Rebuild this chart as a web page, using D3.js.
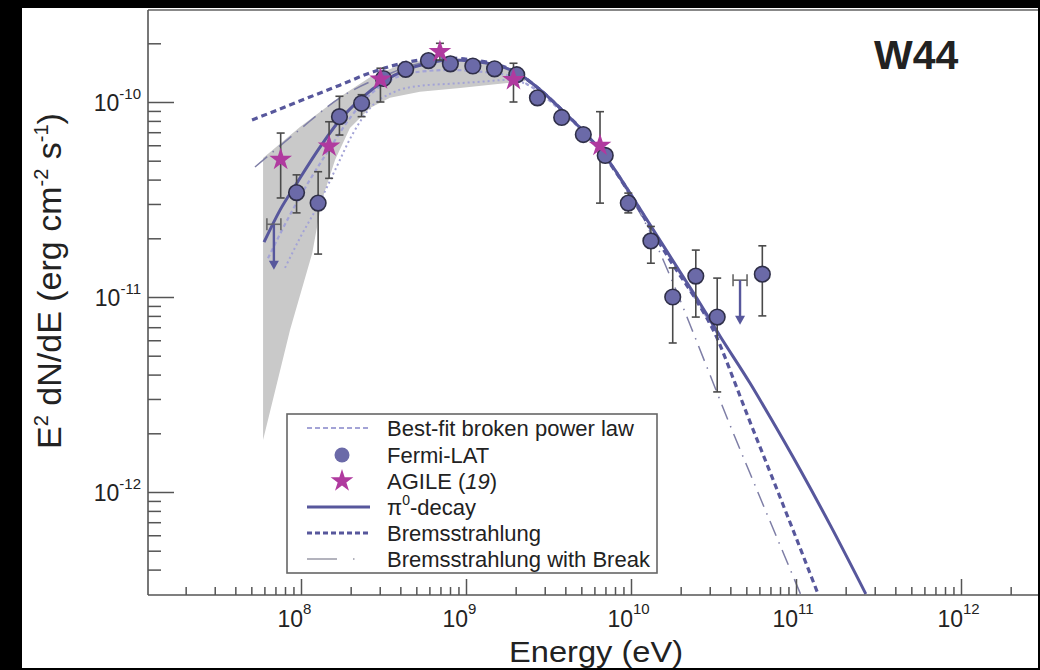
<!DOCTYPE html>
<html>
<head>
<meta charset="utf-8">
<script src="https://cdn.jsdelivr.net/npm/d3@7"></script>
<style>
  body { margin: 0; background: #000; }
  svg { display: block; }
  text { font-family: "Liberation Sans", Arial, sans-serif; fill: #222; }
</style>
</head>
<body>
<script>
// ---- data (E in eV, E^2 dN/dE in erg cm^-2 s^-1) ----
const fermiE  = [9.4e7, 1.27e8, 1.71e8, 2.33e8, 3.16e8, 4.31e8, 5.92e8, 8.04e8, 1.10e9, 1.49e9, 2.03e9,
                 2.71e9, 3.80e9, 5.14e9, 6.98e9, 9.63e9, 1.32e10, 1.79e10, 2.47e10, 3.33e10, 6.25e10];
const fermiF  = [3.43e-11, 3.03e-11, 8.41e-11, 9.85e-11, 1.32e-10, 1.47e-10, 1.63e-10, 1.57e-10, 1.53e-10, 1.48e-10, 1.38e-10,
                 1.05e-10, 8.33e-11, 6.81e-11, 5.32e-11, 3.03e-11, 1.94e-11, 1.00e-11, 1.28e-11, 7.89e-12, 1.31e-11];
const fermiHi = [4.23e-11, 4.39e-11, 1.07e-10, 1.09e-10, null, null, null, null, null, null, null,
                 null, null, null, null, 3.41e-11, 2.3e-11, 1.41e-11, 1.74e-11, 1.25e-11, 1.83e-11];
const fermiLo = [2.70e-11, 1.66e-11, 6.77e-11, 8.41e-11, null, null, null, null, null, null, null,
                 null, null, null, null, 2.70e-11, 1.49e-11, 5.81e-12, 7.89e-12, 3.26e-12, 8.0e-12];

const ulE   = [6.85e7, 4.58e10];
const ulF   = [2.36e-11, 1.22e-11];
const ulTip = [1.38e-11, 7.2e-12];

const agileE  = [7.53e7, 1.48e8, 3.03e8, 6.95e8, 1.94e9, 6.49e9];
const agileF  = [5.07e-11, 5.93e-11, 1.31e-10, 1.81e-10, 1.30e-10, 5.98e-11];
const agileHi = [6.93e-11, 7.92e-11, 1.49e-10, 2.0e-10, 1.58e-10, 8.92e-11];
const agileLo = [3.22e-11, 4.06e-11, 1.0e-10, 1.64e-10, 1.0e-10, 3.03e-11];

const pionE = [5.97e7, 7.46e7, 9.46e7, 1.27e8, 1.72e8, 2.34e8, 3.19e8, 4.33e8, 5.89e8, 8.0e8, 1.10e9, 1.50e9, 2.04e9,
               2.73e9, 3.82e9, 5.19e9, 7.05e9, 9.59e9, 1.32e10, 1.80e10, 2.48e10, 3.46e10, 5.26e10, 6.95e10, 1.06e11, 1.61e11, 2.65e11];
const pionF = [1.91e-11, 2.79e-11, 3.85e-11, 5.68e-11, 8.09e-11, 1.05e-10, 1.28e-10, 1.46e-10, 1.58e-10, 1.64e-10, 1.62e-10, 1.55e-10, 1.41e-10,
               1.18e-10, 9.10e-11, 7.02e-11, 5.22e-11, 3.54e-11, 2.31e-11, 1.53e-11, 1.00e-11, 6.31e-12, 3.62e-12, 2.43e-12, 1.30e-12, 6.78e-13, 3.0e-13];

const bremE = [5.05e7, 7.46e7, 1.13e8, 1.72e8, 2.62e8, 3.98e8, 5.89e8, 8.0e8, 1.10e9, 1.50e9, 2.04e9, 2.73e9, 3.82e9,
               5.19e9, 7.05e9, 9.59e9, 1.32e10, 1.80e10, 2.48e10, 3.32e10, 4.15e10, 5.12e10, 6.95e10, 9.86e10, 1.36e11];
const bremF = [8.09e-11, 9.21e-11, 1.06e-10, 1.22e-10, 1.41e-10, 1.57e-10, 1.66e-10, 1.68e-10, 1.64e-10, 1.57e-10, 1.41e-10, 1.18e-10, 9.10e-11,
               7.02e-11, 5.16e-11, 3.50e-11, 2.23e-11, 1.46e-11, 9.66e-12, 6.17e-12, 3.85e-12, 2.43e-12, 1.27e-12, 6.02e-13, 3.0e-13];

const breakE = [5.26e7, 9.59e7, 1.72e8, 3.19e8, 5.89e8, 1.10e9, 2.04e9, 3.82e9, 7.05e9, 9.87e9, 1.36e10, 1.87e10, 2.55e10, 3.87e10, 5.81e10, 8.58e10, 1.07e11];
const breakF = [4.64e-11, 7.10e-11, 1.05e-10, 1.36e-10, 1.60e-10, 1.62e-10, 1.41e-10, 9.10e-11, 5.16e-11, 3.30e-11, 2.01e-11, 1.09e-11, 5.68e-12, 2.34e-12, 1.02e-12, 4.64e-13, 2.97e-13];

const fitE = [6.31e7, 8.58e7, 1.13e8, 1.50e8, 1.98e8, 2.62e8, 3.71e8, 5.26e8, 8.0e8, 1.22e9, 1.85e9, 2.44e9, 3.72e9,
              5.19e9, 7.05e9, 9.59e9, 1.32e10, 1.80e10, 2.48e10, 3.46e10];
const fitF = [1.58e-11, 2.64e-11, 3.98e-11, 5.81e-11, 8.28e-11, 1.09e-10, 1.33e-10, 1.43e-10, 1.46e-10, 1.43e-10, 1.36e-10, 1.21e-10, 9.10e-11,
              6.94e-11, 5.22e-11, 3.58e-11, 2.31e-11, 1.51e-11, 9.66e-12, 6.17e-12];

const fit2E = [8.0e7, 9.86e7, 1.27e8, 1.61e8, 2.04e8, 2.62e8, 3.71e8, 5.26e8, 8.0e8, 1.22e9, 1.85e9, 2.44e9];
const fit2F = [1.41e-11, 2.01e-11, 2.96e-11, 4.48e-11, 6.77e-11, 9.31e-11, 1.13e-10, 1.21e-10, 1.24e-10, 1.27e-10, 1.30e-10, 1.21e-10];

const bandUpE = [5.89e7, 9.86e7, 1.72e8, 2.62e8, 3.98e8, 6.05e8, 9.2e8, 1.61e9, 2.28e9];
const bandUpF = [5.16e-11, 7.44e-11, 1.06e-10, 1.34e-10, 1.55e-10, 1.66e-10, 1.66e-10, 1.57e-10, 1.36e-10];
const bandLoE = [5.89e7, 8.58e7, 1.17e8, 1.34e8, 1.61e8, 1.98e8, 2.62e8, 3.46e8, 5.26e8, 9.2e8, 1.61e9, 2.28e9];
const bandLoF = [1.85e-12, 6.78e-12, 1.68e-11, 3.14e-11, 5.05e-11, 7.36e-11, 9.31e-11, 1.05e-10, 1.13e-10, 1.18e-10, 1.24e-10, 1.28e-10];

const xMajor = [1e8, 1e9, 1e10, 1e11, 1e12];
const xMajorExp = ["8", "9", "10", "11", "12"];
const yMajor = [1e-10, 1e-11, 1e-12];
const yMajorExp = ["-10", "-11", "-12"];

const legendLabels = ["Best-fit broken power law", "Fermi-LAT", "AGILE (", "-decay", "Bremsstrahlung", "Bremsstrahlung with Break"];

// ---- layout ----
const W = 1040, H = 670;
const L = 148, T = 10, R = 1038, B = 595;

const x = d3.scaleLog().domain([1e8, 1e12]).range([301, 961]);
const y = d3.scaleLog().domain([1e-10, 1e-12]).range([102, 492]);

const slate = "#57579c", dotFill = "#6b6aa8", magenta = "#b03a9f", light = "#a3a3d6";

const svg = d3.select("body").append("svg").attr("width", W).attr("height", H);

svg.append("rect").attr("x", 22).attr("y", 8).attr("width", R - 22).attr("height", H - 10).attr("fill", "#fff");

svg.append("clipPath").attr("id", "plot")
  .append("rect").attr("x", L).attr("y", T).attr("width", R - L).attr("height", B - T);

const g = svg.append("g").attr("clip-path", "url(#plot)");

const pts = (E, F) => E.map((e, i) => [x(e), y(F[i])]);
const line = d3.line().curve(d3.curveMonotoneX);

// grey butterfly band
const band = pts(bandUpE, bandUpF).concat(pts(bandLoE, bandLoF).reverse());
g.append("path").attr("d", d3.line()(band) + "Z").attr("fill", "#c9c9c9");

// best-fit broken power law (light)
g.append("path").attr("d", line(pts(fitE, fitF)))
  .attr("fill", "none").attr("stroke", light).attr("stroke-width", 2.2).attr("stroke-dasharray", "4,3");
g.append("path").attr("d", line(pts(fit2E, fit2F)))
  .attr("fill", "none").attr("stroke", light).attr("stroke-width", 2).attr("stroke-dasharray", "2,3");

// bremsstrahlung with break
g.append("path").attr("d", line(pts(breakE, breakF)))
  .attr("fill", "none").attr("stroke", "#7e7ea6").attr("stroke-width", 1.5).attr("stroke-dasharray", "16,7,1.5,7");

// bremsstrahlung
g.append("path").attr("d", line(pts(bremE, bremF)))
  .attr("fill", "none").attr("stroke", slate).attr("stroke-width", 3.2).attr("stroke-dasharray", "6,4");

// pi0 decay
g.append("path").attr("d", line(pts(pionE, pionF)))
  .attr("fill", "none").attr("stroke", slate).attr("stroke-width", 3);

// error bars
function errBars(E, hi, lo) {
  E.forEach((e, i) => {
    if (hi[i] == null) return;
    const cx = x(e), y1 = y(hi[i]), y2 = y(lo[i]);
    g.append("line").attr("x1", cx).attr("x2", cx).attr("y1", y1).attr("y2", y2)
      .attr("stroke", "#4a4a4a").attr("stroke-width", 1.6);
    [y1, y2].forEach(v => g.append("line").attr("x1", cx - 4).attr("x2", cx + 4).attr("y1", v).attr("y2", v)
      .attr("stroke", "#4a4a4a").attr("stroke-width", 1.6));
  });
}
errBars(fermiE, fermiHi, fermiLo);
errBars(agileE, agileHi, agileLo);

// upper limits
ulE.forEach((e, i) => {
  const cx = x(e), cy = y(ulF[i]), ty = y(ulTip[i]);
  g.append("line").attr("x1", cx - 7).attr("x2", cx + 7).attr("y1", cy).attr("y2", cy).attr("stroke", "#666").attr("stroke-width", 1.6);
  [cx - 7, cx + 7].forEach(v => g.append("line").attr("x1", v).attr("x2", v).attr("y1", cy - 6).attr("y2", cy + 6)
    .attr("stroke", "#666").attr("stroke-width", 1.6));
  g.append("line").attr("x1", cx).attr("x2", cx).attr("y1", cy).attr("y2", ty - 6).attr("stroke", slate).attr("stroke-width", 2.4);
  g.append("path").attr("d", `M${cx - 5},${ty - 9}L${cx + 5},${ty - 9}L${cx},${ty}Z`).attr("fill", slate);
});

// Fermi-LAT points
g.selectAll("circle.fermi").data(fermiE).join("circle").attr("class", "fermi")
  .attr("cx", d => x(d)).attr("cy", (d, i) => y(fermiF[i])).attr("r", 7.8)
  .attr("fill", dotFill).attr("stroke", "#2f2f48").attr("stroke-width", 1.6);

// AGILE stars
const star = d3.symbol(d3.symbolStar).size(160);
g.selectAll("path.agile").data(agileE).join("path").attr("class", "agile")
  .attr("d", star).attr("transform", (d, i) => `translate(${x(d)},${y(agileF[i])})`)
  .attr("fill", magenta);

// ---- axes ----
const xMinor = [], yMinor = [];
for (let k = 7; k <= 12; k++) for (let m = 2; m <= 9; m++) {
  const v = m * Math.pow(10, k);
  if (x(v) > L + 2 && x(v) < R - 2) xMinor.push(v);
}
for (let k = -13; k <= -10; k++) for (let m = 2; m <= 9; m++) {
  const v = m * Math.pow(10, k);
  if (y(v) > T + 4 && y(v) < B - 2) yMinor.push(v);
}

function styleAxis(sel) {
  sel.select(".domain").remove();
  sel.selectAll("line").attr("stroke", "#555").attr("stroke-width", 1.5);
}
svg.append("g").attr("transform", `translate(0,${B})`)
  .call(d3.axisBottom(x).tickValues(xMajor).tickSize(-16).tickFormat("")).call(styleAxis);
svg.append("g").attr("transform", `translate(0,${B})`)
  .call(d3.axisBottom(x).tickValues(xMinor).tickSize(-8).tickFormat("")).call(styleAxis);
svg.append("g").attr("transform", `translate(${L},0)`)
  .call(d3.axisLeft(y).tickValues(yMajor).tickSize(-26).tickFormat("")).call(styleAxis);
svg.append("g").attr("transform", `translate(${L},0)`)
  .call(d3.axisLeft(y).tickValues(yMinor).tickSize(-13).tickFormat("")).call(styleAxis);

// frame
svg.append("line").attr("x1", L).attr("x2", R).attr("y1", T).attr("y2", T).attr("stroke", "#888").attr("stroke-width", 2);
svg.append("line").attr("x1", L).attr("x2", L).attr("y1", T).attr("y2", B).attr("stroke", "#555").attr("stroke-width", 1.6);
svg.append("line").attr("x1", L).attr("x2", R).attr("y1", B).attr("y2", B).attr("stroke", "#555").attr("stroke-width", 1.6);

// tick labels
xMajor.forEach((v, i) => {
  svg.append("text").attr("x", x(v) + 2).attr("y", 627).attr("text-anchor", "end").attr("font-size", 23).text("10");
  svg.append("text").attr("x", x(v) + 2).attr("y", 614).attr("font-size", 15).text(xMajorExp[i]);
});
yMajor.forEach((v, i) => {
  const t = svg.append("text").attr("x", 141).attr("y", y(v) + 9).attr("text-anchor", "end").attr("font-size", 23);
  t.append("tspan").text("10");
  t.append("tspan").attr("font-size", 15).attr("dy", -12).text(yMajorExp[i]);
});

// axis titles
svg.append("text").attr("x", 596).attr("y", 662).attr("text-anchor", "middle").attr("font-size", 30)
  .attr("textLength", 174).attr("lengthAdjust", "spacingAndGlyphs").text("Energy (eV)");
const yl = svg.append("text").attr("transform", "translate(61,281) rotate(-90)").attr("text-anchor", "middle").attr("font-size", 34);
yl.append("tspan").text("E");
yl.append("tspan").attr("font-size", 20).attr("dy", -13).text("2");
yl.append("tspan").attr("dy", 13).text(" dN/dE (erg cm");
yl.append("tspan").attr("font-size", 20).attr("dy", -13).text("-2");
yl.append("tspan").attr("dy", 13).text(" s");
yl.append("tspan").attr("font-size", 20).attr("dy", -13).text("-1");
yl.append("tspan").attr("dy", 13).text(")");

svg.append("text").attr("x", 874).attr("y", 69).attr("font-size", 41).attr("font-weight", "bold").attr("fill", "#1a1a1a").text("W44");

// ---- legend ----
const lg = svg.append("g");
lg.append("rect").attr("x", 287).attr("y", 414).attr("width", 370).attr("height", 159)
  .attr("fill", "#fff").attr("stroke", "#666").attr("stroke-width", 1.6);
const rowY = [428, 455, 481, 507, 533, 559];
const tx = 387;
const sample = (yy, stroke, w, dash) => lg.append("line").attr("x1", 307).attr("x2", 370).attr("y1", yy).attr("y2", yy)
  .attr("stroke", stroke).attr("stroke-width", w).attr("stroke-dasharray", dash);
sample(rowY[0], light, 2.2, "5,3");
lg.append("circle").attr("cx", 342).attr("cy", rowY[1]).attr("r", 7.5).attr("fill", dotFill);
lg.append("path").attr("d", star).attr("transform", `translate(342,${rowY[2]})`).attr("fill", magenta);
sample(rowY[3], slate, 3, null);
sample(rowY[4], slate, 3, "5,3");
sample(rowY[5], "#9a9aa8", 1.6, "30,16,1.5,40");

legendLabels.forEach((s, i) => {
  const t = lg.append("text").attr("x", tx).attr("y", rowY[i] + 8).attr("font-size", 22);
  if (i === 2) {
    t.append("tspan").text(s);
    t.append("tspan").attr("font-style", "italic").text("19");
    t.append("tspan").text(")");
  } else if (i === 3) {
    t.append("tspan").text("\u03c0");
    t.append("tspan").attr("font-size", 14).attr("dy", -10).text("0");
    t.append("tspan").attr("dy", 10).text(s);
  } else {
    t.text(s);
  }
});

// black image border
[[0, 0, 22, H], [0, 0, W, 8], [R, 0, W - R, H], [0, H - 2, W, 2]].forEach(r =>
  svg.append("rect").attr("x", r[0]).attr("y", r[1]).attr("width", r[2]).attr("height", r[3]).attr("fill", "#000"));
</script>
</body>
</html>
